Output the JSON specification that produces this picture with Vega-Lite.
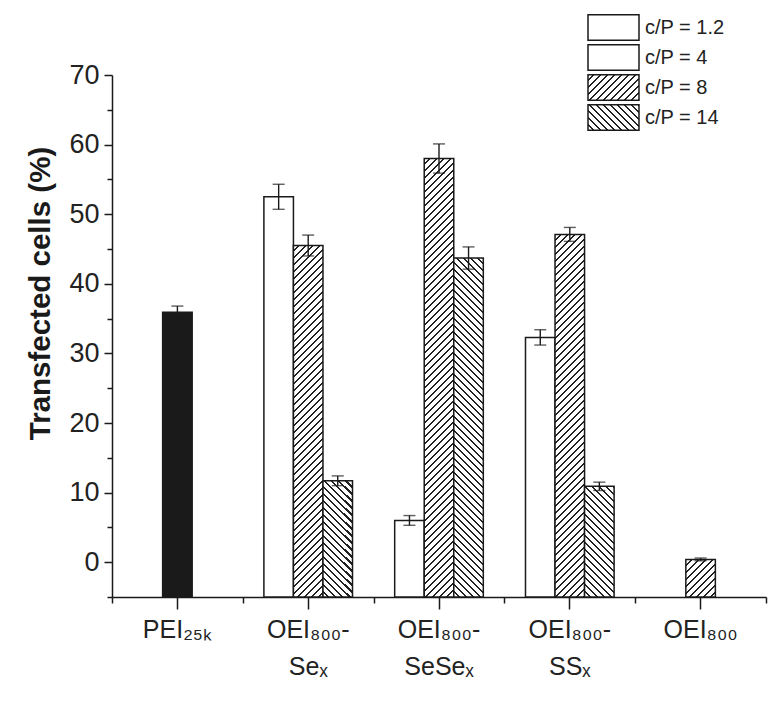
{
"$schema": "https://vega.github.io/schema/vega-lite/v6.json",
"width": 654,
"height": 522,
"autosize": {"type": "none"},
"padding": {"left": 112, "top": 75, "right": 2, "bottom": 104},
"background": "white",
"params": [{"name": "hatch", "value": [
{"offset":0,"color":"#fff"},{"offset":0.01,"color":"#fff"},{"offset":0.01,"color":"#222"},{"offset":0.01429,"color":"#222"},
{"offset":0.01429,"color":"#fff"},{"offset":0.02429,"color":"#fff"},{"offset":0.02429,"color":"#222"},{"offset":0.02857,"color":"#222"},
{"offset":0.02857,"color":"#fff"},{"offset":0.03857,"color":"#fff"},{"offset":0.03857,"color":"#222"},{"offset":0.04286,"color":"#222"},
{"offset":0.04286,"color":"#fff"},{"offset":0.05286,"color":"#fff"},{"offset":0.05286,"color":"#222"},{"offset":0.05714,"color":"#222"},
{"offset":0.05714,"color":"#fff"},{"offset":0.06714,"color":"#fff"},{"offset":0.06714,"color":"#222"},{"offset":0.07143,"color":"#222"},
{"offset":0.07143,"color":"#fff"},{"offset":0.08143,"color":"#fff"},{"offset":0.08143,"color":"#222"},{"offset":0.08571,"color":"#222"},
{"offset":0.08571,"color":"#fff"},{"offset":0.09571,"color":"#fff"},{"offset":0.09571,"color":"#222"},{"offset":0.1,"color":"#222"},
{"offset":0.1,"color":"#fff"},{"offset":0.11,"color":"#fff"},{"offset":0.11,"color":"#222"},{"offset":0.11429,"color":"#222"},
{"offset":0.11429,"color":"#fff"},{"offset":0.12429,"color":"#fff"},{"offset":0.12429,"color":"#222"},{"offset":0.12857,"color":"#222"},
{"offset":0.12857,"color":"#fff"},{"offset":0.13857,"color":"#fff"},{"offset":0.13857,"color":"#222"},{"offset":0.14286,"color":"#222"},
{"offset":0.14286,"color":"#fff"},{"offset":0.15286,"color":"#fff"},{"offset":0.15286,"color":"#222"},{"offset":0.15714,"color":"#222"},
{"offset":0.15714,"color":"#fff"},{"offset":0.16714,"color":"#fff"},{"offset":0.16714,"color":"#222"},{"offset":0.17143,"color":"#222"},
{"offset":0.17143,"color":"#fff"},{"offset":0.18143,"color":"#fff"},{"offset":0.18143,"color":"#222"},{"offset":0.18571,"color":"#222"},
{"offset":0.18571,"color":"#fff"},{"offset":0.19571,"color":"#fff"},{"offset":0.19571,"color":"#222"},{"offset":0.2,"color":"#222"},
{"offset":0.2,"color":"#fff"},{"offset":0.21,"color":"#fff"},{"offset":0.21,"color":"#222"},{"offset":0.21429,"color":"#222"},
{"offset":0.21429,"color":"#fff"},{"offset":0.22429,"color":"#fff"},{"offset":0.22429,"color":"#222"},{"offset":0.22857,"color":"#222"},
{"offset":0.22857,"color":"#fff"},{"offset":0.23857,"color":"#fff"},{"offset":0.23857,"color":"#222"},{"offset":0.24286,"color":"#222"},
{"offset":0.24286,"color":"#fff"},{"offset":0.25286,"color":"#fff"},{"offset":0.25286,"color":"#222"},{"offset":0.25714,"color":"#222"},
{"offset":0.25714,"color":"#fff"},{"offset":0.26714,"color":"#fff"},{"offset":0.26714,"color":"#222"},{"offset":0.27143,"color":"#222"},
{"offset":0.27143,"color":"#fff"},{"offset":0.28143,"color":"#fff"},{"offset":0.28143,"color":"#222"},{"offset":0.28571,"color":"#222"},
{"offset":0.28571,"color":"#fff"},{"offset":0.29571,"color":"#fff"},{"offset":0.29571,"color":"#222"},{"offset":0.3,"color":"#222"},
{"offset":0.3,"color":"#fff"},{"offset":0.31,"color":"#fff"},{"offset":0.31,"color":"#222"},{"offset":0.31429,"color":"#222"},
{"offset":0.31429,"color":"#fff"},{"offset":0.32429,"color":"#fff"},{"offset":0.32429,"color":"#222"},{"offset":0.32857,"color":"#222"},
{"offset":0.32857,"color":"#fff"},{"offset":0.33857,"color":"#fff"},{"offset":0.33857,"color":"#222"},{"offset":0.34286,"color":"#222"},
{"offset":0.34286,"color":"#fff"},{"offset":0.35286,"color":"#fff"},{"offset":0.35286,"color":"#222"},{"offset":0.35714,"color":"#222"},
{"offset":0.35714,"color":"#fff"},{"offset":0.36714,"color":"#fff"},{"offset":0.36714,"color":"#222"},{"offset":0.37143,"color":"#222"},
{"offset":0.37143,"color":"#fff"},{"offset":0.38143,"color":"#fff"},{"offset":0.38143,"color":"#222"},{"offset":0.38571,"color":"#222"},
{"offset":0.38571,"color":"#fff"},{"offset":0.39571,"color":"#fff"},{"offset":0.39571,"color":"#222"},{"offset":0.4,"color":"#222"},
{"offset":0.4,"color":"#fff"},{"offset":0.41,"color":"#fff"},{"offset":0.41,"color":"#222"},{"offset":0.41429,"color":"#222"},
{"offset":0.41429,"color":"#fff"},{"offset":0.42429,"color":"#fff"},{"offset":0.42429,"color":"#222"},{"offset":0.42857,"color":"#222"},
{"offset":0.42857,"color":"#fff"},{"offset":0.43857,"color":"#fff"},{"offset":0.43857,"color":"#222"},{"offset":0.44286,"color":"#222"},
{"offset":0.44286,"color":"#fff"},{"offset":0.45286,"color":"#fff"},{"offset":0.45286,"color":"#222"},{"offset":0.45714,"color":"#222"},
{"offset":0.45714,"color":"#fff"},{"offset":0.46714,"color":"#fff"},{"offset":0.46714,"color":"#222"},{"offset":0.47143,"color":"#222"},
{"offset":0.47143,"color":"#fff"},{"offset":0.48143,"color":"#fff"},{"offset":0.48143,"color":"#222"},{"offset":0.48571,"color":"#222"},
{"offset":0.48571,"color":"#fff"},{"offset":0.49571,"color":"#fff"},{"offset":0.49571,"color":"#222"},{"offset":0.5,"color":"#222"},
{"offset":0.5,"color":"#fff"},{"offset":0.51,"color":"#fff"},{"offset":0.51,"color":"#222"},{"offset":0.51429,"color":"#222"},
{"offset":0.51429,"color":"#fff"},{"offset":0.52429,"color":"#fff"},{"offset":0.52429,"color":"#222"},{"offset":0.52857,"color":"#222"},
{"offset":0.52857,"color":"#fff"},{"offset":0.53857,"color":"#fff"},{"offset":0.53857,"color":"#222"},{"offset":0.54286,"color":"#222"},
{"offset":0.54286,"color":"#fff"},{"offset":0.55286,"color":"#fff"},{"offset":0.55286,"color":"#222"},{"offset":0.55714,"color":"#222"},
{"offset":0.55714,"color":"#fff"},{"offset":0.56714,"color":"#fff"},{"offset":0.56714,"color":"#222"},{"offset":0.57143,"color":"#222"},
{"offset":0.57143,"color":"#fff"},{"offset":0.58143,"color":"#fff"},{"offset":0.58143,"color":"#222"},{"offset":0.58571,"color":"#222"},
{"offset":0.58571,"color":"#fff"},{"offset":0.59571,"color":"#fff"},{"offset":0.59571,"color":"#222"},{"offset":0.6,"color":"#222"},
{"offset":0.6,"color":"#fff"},{"offset":0.61,"color":"#fff"},{"offset":0.61,"color":"#222"},{"offset":0.61429,"color":"#222"},
{"offset":0.61429,"color":"#fff"},{"offset":0.62429,"color":"#fff"},{"offset":0.62429,"color":"#222"},{"offset":0.62857,"color":"#222"},
{"offset":0.62857,"color":"#fff"},{"offset":0.63857,"color":"#fff"},{"offset":0.63857,"color":"#222"},{"offset":0.64286,"color":"#222"},
{"offset":0.64286,"color":"#fff"},{"offset":0.65286,"color":"#fff"},{"offset":0.65286,"color":"#222"},{"offset":0.65714,"color":"#222"},
{"offset":0.65714,"color":"#fff"},{"offset":0.66714,"color":"#fff"},{"offset":0.66714,"color":"#222"},{"offset":0.67143,"color":"#222"},
{"offset":0.67143,"color":"#fff"},{"offset":0.68143,"color":"#fff"},{"offset":0.68143,"color":"#222"},{"offset":0.68571,"color":"#222"},
{"offset":0.68571,"color":"#fff"},{"offset":0.69571,"color":"#fff"},{"offset":0.69571,"color":"#222"},{"offset":0.7,"color":"#222"},
{"offset":0.7,"color":"#fff"},{"offset":0.71,"color":"#fff"},{"offset":0.71,"color":"#222"},{"offset":0.71429,"color":"#222"},
{"offset":0.71429,"color":"#fff"},{"offset":0.72429,"color":"#fff"},{"offset":0.72429,"color":"#222"},{"offset":0.72857,"color":"#222"},
{"offset":0.72857,"color":"#fff"},{"offset":0.73857,"color":"#fff"},{"offset":0.73857,"color":"#222"},{"offset":0.74286,"color":"#222"},
{"offset":0.74286,"color":"#fff"},{"offset":0.75286,"color":"#fff"},{"offset":0.75286,"color":"#222"},{"offset":0.75714,"color":"#222"},
{"offset":0.75714,"color":"#fff"},{"offset":0.76714,"color":"#fff"},{"offset":0.76714,"color":"#222"},{"offset":0.77143,"color":"#222"},
{"offset":0.77143,"color":"#fff"},{"offset":0.78143,"color":"#fff"},{"offset":0.78143,"color":"#222"},{"offset":0.78571,"color":"#222"},
{"offset":0.78571,"color":"#fff"},{"offset":0.79571,"color":"#fff"},{"offset":0.79571,"color":"#222"},{"offset":0.8,"color":"#222"},
{"offset":0.8,"color":"#fff"},{"offset":0.81,"color":"#fff"},{"offset":0.81,"color":"#222"},{"offset":0.81429,"color":"#222"},
{"offset":0.81429,"color":"#fff"},{"offset":0.82429,"color":"#fff"},{"offset":0.82429,"color":"#222"},{"offset":0.82857,"color":"#222"},
{"offset":0.82857,"color":"#fff"},{"offset":0.83857,"color":"#fff"},{"offset":0.83857,"color":"#222"},{"offset":0.84286,"color":"#222"},
{"offset":0.84286,"color":"#fff"},{"offset":0.85286,"color":"#fff"},{"offset":0.85286,"color":"#222"},{"offset":0.85714,"color":"#222"},
{"offset":0.85714,"color":"#fff"},{"offset":0.86714,"color":"#fff"},{"offset":0.86714,"color":"#222"},{"offset":0.87143,"color":"#222"},
{"offset":0.87143,"color":"#fff"},{"offset":0.88143,"color":"#fff"},{"offset":0.88143,"color":"#222"},{"offset":0.88571,"color":"#222"},
{"offset":0.88571,"color":"#fff"},{"offset":0.89571,"color":"#fff"},{"offset":0.89571,"color":"#222"},{"offset":0.9,"color":"#222"},
{"offset":0.9,"color":"#fff"},{"offset":0.91,"color":"#fff"},{"offset":0.91,"color":"#222"},{"offset":0.91429,"color":"#222"},
{"offset":0.91429,"color":"#fff"},{"offset":0.92429,"color":"#fff"},{"offset":0.92429,"color":"#222"},{"offset":0.92857,"color":"#222"},
{"offset":0.92857,"color":"#fff"},{"offset":0.93857,"color":"#fff"},{"offset":0.93857,"color":"#222"},{"offset":0.94286,"color":"#222"},
{"offset":0.94286,"color":"#fff"},{"offset":0.95286,"color":"#fff"},{"offset":0.95286,"color":"#222"},{"offset":0.95714,"color":"#222"},
{"offset":0.95714,"color":"#fff"},{"offset":0.96714,"color":"#fff"},{"offset":0.96714,"color":"#222"},{"offset":0.97143,"color":"#222"},
{"offset":0.97143,"color":"#fff"},{"offset":0.98143,"color":"#fff"},{"offset":0.98143,"color":"#222"},{"offset":0.98571,"color":"#222"},
{"offset":0.98571,"color":"#fff"},{"offset":0.99571,"color":"#fff"},{"offset":0.99571,"color":"#222"},{"offset":1,"color":"#222"}
]}],
"config": {
  "view": {"stroke": null},
  "font": "Liberation Sans",
  "axis": {"domainColor": "#1a1a1a", "tickColor": "#1a1a1a", "domainWidth": 1.5, "tickWidth": 1.5, "labelColor": "#222", "grid": false, "labelFont": "Liberation Sans"}
},
"data": {"values": [
  {"polymer": "PEI₂₅ₖ", "series": "PEI25k", "value": 35.9, "lo": 35.0, "hi": 36.8},
  {"polymer": "OEI₈₀₀-\nSeₓ", "series": "c/P = 4", "value": 52.5, "lo": 50.7, "hi": 54.3},
  {"polymer": "OEI₈₀₀-\nSeₓ", "series": "c/P = 8", "value": 45.5, "lo": 44.0, "hi": 47.0},
  {"polymer": "OEI₈₀₀-\nSeₓ", "series": "c/P = 14", "value": 11.7, "lo": 11.0, "hi": 12.4},
  {"polymer": "OEI₈₀₀-\nSeSeₓ", "series": "c/P = 4", "value": 6.0, "lo": 5.3, "hi": 6.7},
  {"polymer": "OEI₈₀₀-\nSeSeₓ", "series": "c/P = 8", "value": 58.0, "lo": 55.9, "hi": 60.1},
  {"polymer": "OEI₈₀₀-\nSeSeₓ", "series": "c/P = 14", "value": 43.7, "lo": 42.1, "hi": 45.3},
  {"polymer": "OEI₈₀₀-\nSSₓ", "series": "c/P = 4", "value": 32.3, "lo": 31.2, "hi": 33.4},
  {"polymer": "OEI₈₀₀-\nSSₓ", "series": "c/P = 8", "value": 47.1, "lo": 46.1, "hi": 48.1},
  {"polymer": "OEI₈₀₀-\nSSₓ", "series": "c/P = 14", "value": 10.9, "lo": 10.3, "hi": 11.5},
  {"polymer": "OEI₈₀₀", "series": "c/P = 8", "value": 0.4, "lo": 0.2, "hi": 0.6}
]},
"resolve": {"axis": {"x": "independent", "y": "independent"}},
"layer": [
  {
    "transform": [{"filter": {"not": {"field": "polymer", "oneOf": ["PEI₂₅ₖ", "OEI₈₀₀"]}}}],
    "mark": {"type": "bar", "strokeWidth": 1.5, "stroke": "#1a1a1a", "fill": {"expr": "datum.series === 'c/P = 8' ? {gradient: 'linear', x1: 0, y1: 0, x2: 14455 / (870.25 + pow(height - scale('y', datum.value), 2)), y2: 490 * (height - scale('y', datum.value)) / (870.25 + pow(height - scale('y', datum.value), 2)), stops: hatch} : datum.series === 'c/P = 14' ? {gradient: 'linear', x1: 0, y1: 1, x2: 14455 / (870.25 + pow(height - scale('y', datum.value), 2)), y2: 1 - 490 * (height - scale('y', datum.value)) / (870.25 + pow(height - scale('y', datum.value), 2)), stops: hatch} : datum.series === 'PEI25k' ? '#1a1a1a' : 'white'"}},
    "encoding": {
      "x": {"field": "polymer", "type": "nominal", "sort": null,
        "scale": {"domain": ["PEI₂₅ₖ", "OEI₈₀₀-\nSeₓ", "OEI₈₀₀-\nSeSeₓ", "OEI₈₀₀-\nSSₓ", "OEI₈₀₀"], "paddingInner": 0, "paddingOuter": 0},
        "axis": {"orient": "bottom", "title": null, "labelAngle": 0, "labelFontSize": 25, "labelExpr": "split(datum.label, '\\n')", "labelLineHeight": 37, "tickSize": 12, "labelPadding": 8, "bandPosition": 0.5}},
      "xOffset": {"field": "series", "type": "nominal", "scale": {"domain": ["c/P = 4", "c/P = 8", "c/P = 14"], "paddingInner": 0, "paddingOuter": 0.714}},
      "y": {"field": "value", "type": "quantitative", "scale": {"domain": [-5, 70], "nice": false, "zero": false},
        "axis": {"orient": "left", "values": [0, 10, 20, 30, 40, 50, 60, 70], "tickSize": 8, "labelPadding": 5, "labelFontSize": 27, "title": "Transfected cells (%)", "titleFontSize": 29.5, "titleFontWeight": "bold", "titleColor": "#1a1a1a", "titleX": -63, "titleY": 218, "titleBaseline": "alphabetic", "titleAngle": -90, "titleAlign": "center"}},
      "y2": {"datum": -5}
    }
  },
  {
    "transform": [{"filter": {"field": "polymer", "oneOf": ["PEI₂₅ₖ", "OEI₈₀₀"]}}],
    "mark": {"type": "bar", "strokeWidth": 1.5, "stroke": "#1a1a1a", "width": {"band": 0.2258}, "fill": {"expr": "datum.series === 'c/P = 8' ? {gradient: 'linear', x1: 0, y1: 0, x2: 14455 / (870.25 + pow(height - scale('y', datum.value), 2)), y2: 490 * (height - scale('y', datum.value)) / (870.25 + pow(height - scale('y', datum.value), 2)), stops: hatch} : datum.series === 'c/P = 14' ? {gradient: 'linear', x1: 0, y1: 1, x2: 14455 / (870.25 + pow(height - scale('y', datum.value), 2)), y2: 1 - 490 * (height - scale('y', datum.value)) / (870.25 + pow(height - scale('y', datum.value), 2)), stops: hatch} : datum.series === 'PEI25k' ? '#1a1a1a' : 'white'"}},
    "encoding": {
      "x": {"field": "polymer", "type": "nominal", "sort": null,
        "axis": {"orient": "bottom", "title": null, "tickBand": "extent", "tickSize": 6, "labels": false, "domain": false}},
      "y": {"field": "value", "type": "quantitative",
        "axis": {"orient": "left", "values": [-5, 5, 15, 25, 35, 45, 55, 65], "tickSize": 5, "labels": false, "domain": false, "title": null}},
      "y2": {"datum": -5}
    }
  },
  {
    "transform": [{"filter": {"not": {"field": "polymer", "oneOf": ["PEI₂₅ₖ", "OEI₈₀₀"]}}}],
    "mark": {"type": "rule", "strokeWidth": 1.4, "color": "#1a1a1a"},
    "encoding": {
      "x": {"field": "polymer", "type": "nominal", "sort": null, "axis": null},
      "xOffset": {"field": "series", "type": "nominal"},
      "y": {"field": "lo", "type": "quantitative", "axis": null},
      "y2": {"field": "hi"}
    }
  },
  {
    "transform": [{"filter": {"field": "polymer", "oneOf": ["PEI₂₅ₖ", "OEI₈₀₀"]}}],
    "mark": {"type": "rule", "strokeWidth": 1.4, "color": "#1a1a1a"},
    "encoding": {
      "x": {"field": "polymer", "type": "nominal", "sort": null, "axis": null},
      "y": {"field": "lo", "type": "quantitative", "axis": null},
      "y2": {"field": "hi"}
    }
  },
  {
    "transform": [{"filter": {"not": {"field": "polymer", "oneOf": ["PEI₂₅ₖ", "OEI₈₀₀"]}}}, {"fold": ["lo", "hi"], "as": ["bound", "v"]}],
    "mark": {"type": "tick", "size": 12, "thickness": 1.4, "color": "#1a1a1a", "orient": "horizontal"},
    "encoding": {
      "x": {"field": "polymer", "type": "nominal", "sort": null, "axis": null},
      "xOffset": {"field": "series", "type": "nominal"},
      "y": {"field": "v", "type": "quantitative", "axis": null}
    }
  },
  {
    "transform": [{"filter": {"field": "polymer", "oneOf": ["PEI₂₅ₖ", "OEI₈₀₀"]}}, {"fold": ["lo", "hi"], "as": ["bound", "v"]}],
    "mark": {"type": "tick", "size": 12, "thickness": 1.4, "color": "#1a1a1a", "orient": "horizontal"},
    "encoding": {
      "x": {"field": "polymer", "type": "nominal", "sort": null, "axis": null},
      "y": {"field": "v", "type": "quantitative", "axis": null}
    }
  },
  {
    "transform": [{"filter": "false"}],
    "mark": {"type": "bar"},
    "encoding": {
      "x": {"field": "polymer", "type": "nominal", "sort": null, "axis": null},
      "y": {"field": "value", "type": "quantitative", "axis": null},
      "fill": {"field": "series", "type": "nominal",
        "scale": {"domain": ["c/P = 1.2", "c/P = 4", "c/P = 8", "c/P = 14"], "range": ["white", "white", {"expr": "{gradient: 'linear', x1: 0, y1: 0, x2: 7.686, y2: 3.843, stops: hatch}"}, {"expr": "{gradient: 'linear', x1: 0, y1: 1, x2: 7.686, y2: -2.843, stops: hatch}"}]},
        "legend": {"title": null, "orient": "none", "legendX": 488, "legendY": -61, "symbolType": "M-2,-1H2V1H-2Z", "symbolSize": 650, "symbolStrokeColor": "#1a1a1a", "symbolStrokeWidth": 1.5, "symbolOpacity": 1, "labelFontSize": 20, "labelColor": "#222", "labelOffset": 18, "rowPadding": -3, "padding": 0}}
    }
  }
]
}
